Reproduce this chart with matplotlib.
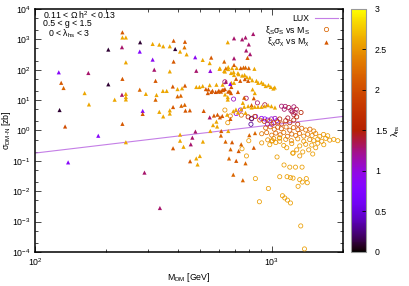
import matplotlib
matplotlib.use("Agg")
import matplotlib.pyplot as plt
from matplotlib.colors import Normalize
from matplotlib.cm import ScalarMappable
from matplotlib.lines import Line2D
from matplotlib.ticker import LogLocator, NullFormatter

plt.rcParams['font.family'] = ['Liberation Sans', 'DejaVu Sans']
plt.rcParams['mathtext.fontset'] = 'custom'
plt.rcParams['mathtext.rm'] = 'Liberation Sans'
plt.rcParams['mathtext.it'] = 'Liberation Sans:italic'
plt.rcParams['font.size'] = 6.3

# LUX limit
lux_m = [100, 2000]
lux_sig = [0.18, 2.9]

# xi_chi sigma_chi vs M_chi (triangles)
m_chi = [126, 127, 129, 132, 134, 138, 162, 168, 169, 185,
         204, 204, 217, 233, 234, 234, 242, 242, 234, 233,
         242, 242, 242, 234, 242, 290, 337,
         278, 277, 314, 335, 348, 385, 430, 371, 391, 428,
         410, 437, 314, 385, 475, 511, 555, 547, 630, 319,
         371, 480, 550, 602, 655, 630, 673, 693, 693, 693, 693,
         323, 277, 294, 347, 360, 400, 418, 430, 382, 326,
         323, 400, 413, 480, 495, 511, 547, 584, 620, 527,
         537, 555, 580, 598, 618, 634, 610, 665, 673, 635,
         652, 652, 675, 693, 675,
         285, 285, 335, 348, 371, 371, 383, 415, 429, 432,
         451, 516, 547, 570, 590, 604, 618, 584, 565, 588, 648, 669,
         410, 476, 462, 410, 512, 550, 612, 655, 610, 638,
         680, 424, 455, 383, 670, 452, 480, 497, 486, 660,
         688, 804, 850, 743, 725, 840, 708, 775, 755,
         835, 775, 750, 800, 652, 780, 810, 790,
         604, 640, 655, 680, 711, 740, 760, 775, 800, 845,
         634, 690, 720, 768, 795, 640, 668,
         725, 750, 785, 808, 827, 862, 876, 905, 922, 943,
         969, 991, 1016, 1030, 707, 736, 770,
         540, 562, 594, 624, 655, 720, 830, 848, 765, 822,
         765, 795, 822, 848, 875, 905, 935, 965, 997, 1032,
         688, 706, 720, 743, 775, 755, 840]
sig_chi = [82, 4.7, 37, 25, 1.35, 0.089, 17, 78, 7.2, 0.67,
           460, 33, 10.3, 550, 1700, 1150, 1150, 175, 50, 15,
           16, 12.6, 10.5, 1.65, 0.41, 0.041, 0.0028,
           800, 395, 705, 670, 590, 900, 830, 590, 480, 545,
           395, 320, 215, 185, 257, 210, 250, 165, 185, 100,
           88, 92, 91, 107, 122, 91, 78, 1080, 237, 143, 67,
           43, 22, 16, 20, 20, 23, 24.5, 30, 28, 14.7,
           10.3, 13.3, 14, 27, 27, 29, 31, 32, 32, 23,
           17, 18.5, 18.5, 20.5, 21.5, 23, 19, 19.5, 17, 15.3,
           12.5, 10.4, 37, 37, 27,
           4.4, 3.5, 4.1, 2.9, 4.6, 3.6, 5.9, 6.5, 7.0, 4.5,
           4.6, 4.4, 2.7, 3.1, 3.3, 2.7, 3.0, 1.95, 1.5, 1.35, 3.3, 2.4,
           0.73, 0.92, 0.58, 0.46, 0.43, 0.96, 0.96, 0.96, 0.68, 0.43,
           0.41, 0.29, 0.35, 0.26, 0.24, 0.097, 0.12, 0.144, 0.076, 0.12,
           0.035, 0.70, 0.82, 0.35, 0.21, 0.27, 0.10, 0.083, 0.023,
           1500, 1150, 1000, 680, 800, 430, 325, 245,
           111, 111, 105, 113, 114, 113, 118, 118, 113, 107,
           87, 84, 77, 67, 43, 40, 34,
           71, 64, 57, 55, 45, 43, 37, 38, 34, 29,
           31, 27, 24, 26, 50, 43, 49,
           22.5, 20.3, 19, 21.5, 19, 18.5, 22.5, 17, 12, 6.8,
           6.0, 6.3, 5.7, 6.0, 6.0, 6.0, 6.3, 6.8, 6.3, 5.7,
           4.3, 4.9, 3.9, 5.0, 3.8, 8.1, 11.5]
lam_chi = [0.85, 0.1, 2.1, 2.2, 2.0, 0.85, 2.6, 1.3, 2.6, 0.85,
           0.1, 0.1, 2.6, 1.3, 2.1, 2.6, 2.6, 2.6, 2.1, 1.3,
           2.6, 2.6, 2.6, 2.1, 2.6, 1.3, 1.3,
           0.1, 0.8, 2.6, 2.6, 2.6, 2.1, 2.1, 2.6, 0.1, 2.3,
           2.6, 2.6, 0.9, 2.1, 0.9, 2.6, 2.1, 2.6, 2.2, 1.3,
           2.6, 1.3, 1.0, 2.6, 2.6, 2.6, 2.6, 1.3, 1.3, 2.1, 2.6,
           2.1, 2.2, 2.6, 2.6, 2.6, 2.6, 2.6, 2.1, 2.1, 2.6,
           2.2, 2.2, 2.2, 2.6, 2.6, 2.6, 2.6, 2.6, 2.6, 2.1,
           2.1, 2.1, 2.0, 2.1, 2.1, 2.0, 2.1, 2.1, 2.1, 2.6,
           2.6, 2.6, 2.6, 2.6, 2.1,
           0.85, 2.1, 2.6, 2.6, 2.6, 2.6, 2.1, 2.2, 2.2, 2.1,
           2.1, 2.1, 1.3, 2.1, 2.1, 2.1, 2.1, 2.6, 2.6, 2.6, 2.6, 2.1,
           2.6, 1.3, 1.3, 2.6, 2.6, 2.6, 2.1, 2.6, 2.2, 2.2,
           2.1, 2.6, 1.3, 2.1, 2.2, 2.1, 2.6, 2.6, 2.6, 2.2,
           2.2, 2.2, 2.2, 2.2, 2.1, 2.1, 2.1, 2.2, 2.2,
           1.3, 1.3, 1.3, 1.3, 2.6, 1.3, 1.3, 2.1,
           2.6, 2.3, 2.6, 2.6, 2.6, 2.1, 2.2, 2.2, 2.2, 2.6,
           2.6, 2.6, 2.6, 2.6, 2.1, 1.3, 0.85,
           2.6, 2.6, 2.6, 2.6, 2.6, 2.6, 2.6, 2.6, 2.6, 2.6,
           2.6, 2.6, 2.6, 2.6, 2.1, 2.1, 2.1,
           2.1, 2.1, 2.1, 2.1, 2.1, 2.1, 2.6, 2.6, 2.1, 2.1,
           2.6, 2.6, 2.6, 2.6, 2.6, 2.6, 2.6, 2.6, 2.6, 2.6,
           2.6, 2.6, 2.6, 2.6, 2.6, 2.6, 2.1]

# xi_S sigma_S vs M_S (open circles)
m_s = [690, 780, 870, 935, 1140, 1180, 1240, 1270, 1220, 1130,
       738, 708, 855, 935, 1050, 960, 1000, 822, 817, 1100,
       1205, 1255, 1240, 1275, 1330, 822, 905, 960, 997, 1032,
       634, 668, 744, 795, 848, 890, 930, 652, 634,
       981, 1020, 1060, 1102, 1146, 1192, 1239, 1288, 1169, 1081,
       943, 985, 1025, 1060, 1098, 1150, 1192, 1235, 1290, 1339, 1392, 1450, 1505,
       907, 952, 1000, 1040, 1085, 1124, 1165, 1215, 1263, 1310, 1365, 1419, 1480,
       1534, 1595, 1655, 1724,
       962, 1020, 1081, 1146, 1210, 1288, 1365, 1447, 1505, 1565,
       1627, 1691, 1758, 1828, 1901,
       907, 981, 1040, 1124, 1215, 1313, 1392, 1476, 1565, 1659,
       1000, 1081, 1227, 1275, 1352, 1433, 1490, 1313, 1157, 1534,
       800, 749, 782, 1053, 1127, 1192, 1260, 1343, 1081, 1161,
       1200, 1230, 1313, 1347, 1292, 1400, 1413, 853, 968, 887,
       1110, 1135, 1165, 1200, 1326, 1375, 1007, 1078, 1231]
sig_s = [10.8, 11.5, 8.1, 7.0, 6.2, 5.7, 6.0, 5.0, 4.1, 5.0,
         4.7, 3.6, 2.9, 2.4, 2.1, 1.6, 1.6, 2.4, 1.6, 6.3,
         4.6, 3.9, 3.3, 2.8, 3.9, 2.5, 2.5, 2.2, 2.4, 2.5,
         4.7, 3.0, 3.2, 2.8, 2.9, 2.2, 2.0, 1.8, 40,
         2.06, 1.77, 1.91, 1.64, 2.1, 1.8, 2.22, 1.6, 2.58, 2.39,
         1.21, 1.32, 1.1, 1.28, 1.14, 1.3, 1.02, 1.24, 1.06, 1.18, 1.04, 1.1, 0.96,
         0.78, 0.85, 0.7, 0.82, 0.72, 0.86, 0.64, 0.76, 0.68, 0.8, 0.65, 0.75, 0.68,
         0.79, 0.64, 0.74, 0.67,
         0.49, 0.54, 0.44, 0.51, 0.46, 0.53, 0.44, 0.5, 0.46, 0.52,
         0.44, 0.55, 0.48, 0.51, 0.46,
         0.39, 0.34, 0.4, 0.32, 0.37, 0.31, 0.35, 0.33, 0.38, 0.34,
         0.45, 0.57, 0.18, 0.23, 0.196, 0.23, 0.168, 0.145, 0.27, 0.27,
         0.46, 0.25, 0.145, 0.134, 0.073, 0.062, 0.062, 0.062, 0.030, 0.030,
         0.028, 0.027, 0.024, 0.020, 0.0145, 0.026, 0.019, 0.026, 0.0123, 0.0045,
         0.0071, 0.0060, 0.0051, 0.0041, 0.00072, 0.000126, 0.46, 0.56, 0.18]
lam_s = [1.1, 1.3, 1.3, 1.4, 1.3, 1.4, 1.3, 1.4, 1.4, 1.3,
         0.9, 0.9, 0.9, 0.9, 0.9, 0.9, 0.9, 1.3, 0.3, 1.3,
         1.3, 1.3, 1.4, 1.5, 1.5, 0.2, 0.9, 1.0, 1.0, 1.1,
         2.5, 2.4, 2.2, 1.5, 2.0, 2.1, 1.8, 2.5, 1.3,
         2.0, 1.9, 2.1, 1.8, 1.7, 1.6, 1.5, 1.7, 1.4, 1.6,
         2.2, 2.1, 2.2, 2.0, 2.1, 2.2, 2.0, 2.2, 2.1, 2.2, 2.3, 2.2, 2.4,
         2.3, 2.2, 2.3, 2.2, 2.1, 2.3, 2.2, 2.2, 2.3, 2.2, 2.4, 2.3, 2.45,
         2.4, 2.5, 2.5, 2.55,
         2.45, 2.4, 2.5, 2.45, 2.4, 2.45, 2.5, 2.45, 2.5, 2.55,
         2.5, 2.55, 2.5, 2.55, 2.55,
         2.5, 2.55, 2.5, 2.55, 2.5, 2.55, 2.5, 2.55, 2.5, 2.55,
         2.5, 2.55, 2.55, 2.5, 2.55, 2.5, 2.55, 2.5, 2.55, 2.5,
         2.55, 2.55, 2.55, 2.55, 2.55, 2.55, 2.55, 2.55, 2.55, 2.55,
         2.55, 2.55, 2.55, 2.55, 2.55, 2.55, 2.55, 2.55, 2.55, 2.55,
         2.55, 2.55, 2.55, 2.55, 2.55, 2.55, 2.55, 2.55, 2.55]

cb_ticks = [0, 0.5, 1, 1.5, 2, 2.5, 3]
cb_labels = ['0', '0.5', '1', '1.5', '2', '2.5', '3']

cmap = plt.get_cmap('gnuplot')
norm = Normalize(0, 3)
lux_color = '#c47ee6'

fig = plt.figure(figsize=(4.09, 2.86), dpi=100)
ax = fig.add_axes([0.0856, 0.119, 0.753, 0.8497])
cax = fig.add_axes([0.859, 0.119, 0.037, 0.8497])

ax.plot(lux_m, lux_sig, color=lux_color, lw=0.8, zorder=2)
ax.scatter(m_s, sig_s, s=9, marker='o', facecolors='none',
           edgecolors=cmap(norm(lam_s)), linewidths=0.55, zorder=3)
ax.scatter(m_chi, sig_chi, s=9, marker='^', c=lam_chi, cmap=cmap, norm=norm,
           linewidths=0, zorder=4)

ax.set_xscale('log')
ax.set_yscale('log')
ax.set_xlim(100, 2000)
ax.set_ylim(1e-4, 1e4)
ax.yaxis.set_major_locator(LogLocator(base=10, numticks=20))
ax.yaxis.set_minor_locator(LogLocator(base=10, subs=(2, 5), numticks=20))
ax.yaxis.set_minor_formatter(NullFormatter())
ax.xaxis.set_minor_formatter(NullFormatter())
ax.xaxis.offsetText.set_visible(False)
ax.yaxis.offsetText.set_visible(False)
ax.tick_params(which='both', direction='in', top=True, right=True, width=0.5)
ax.tick_params(which='major', length=4, pad=3)
ax.tick_params(which='minor', length=2)
for sp in ax.spines.values():
    sp.set_linewidth(1.1)

ax.set_xlabel('M$_{\\mathrm{DM}}$ [GeV]')
ax.xaxis.set_label_coords(0.5, -0.078)
ax.set_ylabel('σ$_{\\mathrm{DM\\text{-}N}}$ [zb]')
ax.yaxis.set_label_coords(-0.072, 0.5)

ax.text(0.026, 0.975, '0.11 < Ω h$^{2}$ < 0.13', transform=ax.transAxes, va='center')
ax.text(0.026, 0.939, '0.5 < g < 1.5', transform=ax.transAxes, va='center')
ax.text(0.042, 0.898, '0 < λ$_{\\mathrm{hs}}$ < 3', transform=ax.transAxes, va='center')

handles = [Line2D([], [], color=lux_color, lw=0.8),
           Line2D([], [], marker='o', ls='', mfc='none', mec=cmap(norm(2.2)), ms=3.1, mew=0.55),
           Line2D([], [], marker='^', ls='', color=cmap(norm(2.1)), ms=3.1, mew=0)]
labels = ['LUX', 'ξ$_{\\mathrm{S}}$σ$_{\\mathrm{S}}$ vs M$_{\\mathrm{S}}$',
          'ξ$_{\\mathrm{χ}}$σ$_{\\mathrm{χ}}$ vs M$_{\\mathrm{χ}}$']
ax.legend(handles, labels, loc='upper right', frameon=False, markerfirst=False,
          handlelength=2.6, labelspacing=0.05, borderaxespad=0.2, handletextpad=0.6)

cb = fig.colorbar(ScalarMappable(norm=norm, cmap=cmap), cax=cax, ticks=cb_ticks)
cb.ax.set_yticklabels(cb_labels)
cb.ax.tick_params(direction='in', length=3, width=0.6, pad=6)
cb.outline.set_edgecolor('#999999')
cb.set_label('λ$_{\\mathrm{hs}}$', rotation=90, labelpad=2)

fig.savefig('out.png', dpi=100)
